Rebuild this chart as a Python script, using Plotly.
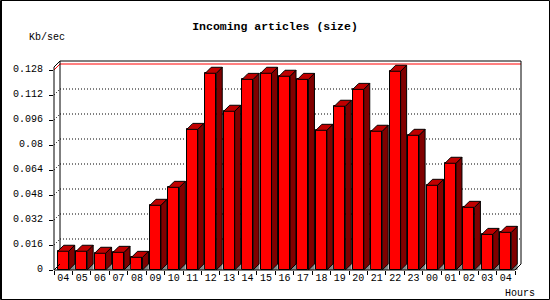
import plotly.graph_objects as go

# ---------------- data ----------------
hours = ["04", "05", "06", "07", "08", "09", "10", "11", "12", "13", "14", "15",
         "16", "17", "18", "19", "20", "21", "22", "23", "00", "01", "02", "03", "04"]
values = [0.0120, 0.0120, 0.0107, 0.0113, 0.0081, 0.0414, 0.0529, 0.0900,
          0.1259, 0.1016, 0.1220, 0.1259, 0.1240, 0.1220, 0.0894, 0.1048,
          0.1156, 0.0888, 0.1272, 0.0862, 0.0542, 0.0683, 0.0401, 0.0228, 0.0241]
y_tick_vals = [0, 0.016, 0.032, 0.048, 0.064, 0.08, 0.096, 0.112, 0.128]
y_tick_text = ["0", "0.016", "0.032", "0.048", "0.064", "0.08", "0.096", "0.112", "0.128"]
max_line = 0.128

# ---------------- geometry ----------------
W, H = 550, 300
L, R, T, B = 54, 29, 61, 30
plot_w = W - L - R
plot_h = H - T - B
depth_px = 6
n = len(values)
slot_px = (plot_w - depth_px) / n
px_per_y = 200 / 0.128
x_min = -0.5
x_max = n - 0.5 + depth_px / slot_px
y_max = plot_h / px_per_y
dx = depth_px / slot_px
dy = depth_px / px_per_y
bw = 11 / slot_px

FRONT = "#ff0000"
TOP = "#c00000"
SIDE = "#800000"
GRAY = "#888888"


def xp(v):
    return (v - x_min) / (x_max - x_min)


def yp(v):
    return v / y_max


fig = go.Figure()

# front faces
fig.add_trace(go.Bar(
    x=list(range(n)), y=values, width=bw,
    marker=dict(color=FRONT, line=dict(color="black", width=1)),
    hoverinfo="skip", showlegend=False,
))

# top, side, shadow faces
top_x, top_y, side_x, side_y, sh_x, sh_y = [], [], [], [], [], []
for i, v in enumerate(values):
    x0, x1 = i - bw / 2, i + bw / 2
    top_x += [x0, x0 + dx, x1 + dx, x1, x0, None]
    top_y += [v, v + dy, v + dy, v, v, None]
    side_x += [x1, x1, x1 + dx, x1 + dx, x1, None]
    side_y += [0, v, v + dy, dy, 0, None]
    sh_x += [x1, x1 + dx, x1 + dx, x1, None]
    sh_y += [0, dy, 0, 0, None]

fig.add_trace(go.Scatter(x=sh_x, y=sh_y, mode="lines", fill="toself",
                         fillcolor=GRAY, line=dict(color=GRAY, width=0.5),
                         hoverinfo="skip", showlegend=False))
fig.add_trace(go.Scatter(x=side_x, y=side_y, mode="lines", fill="toself",
                         fillcolor=SIDE, line=dict(color="black", width=1),
                         hoverinfo="skip", showlegend=False))
fig.add_trace(go.Scatter(x=top_x, y=top_y, mode="lines", fill="toself",
                         fillcolor=TOP, line=dict(color="black", width=1),
                         hoverinfo="skip", showlegend=False))

shapes = []


def seg(x0, y0, x1, y1, color="black", width=1, dash="solid", layer="above"):
    shapes.append(dict(type="line", xref="paper", yref="paper",
                       x0=xp(x0), y0=yp(y0), x1=xp(x1), y1=yp(y1),
                       line=dict(color=color, width=width, dash=dash), layer=layer))


bx = x_min + dx                # back plane left
ex = n - 0.5                   # front axis right end
# back plane grid (dotted)
for t in y_tick_vals[1:-1]:
    seg(bx, t + dy, x_max, t + dy, dash="1px,2px", layer="below")
for t in y_tick_vals[1:-1]:
    seg(x_min, t, bx, t + dy, dash="1px,2px", layer="below")
# max line (red)
seg(bx, max_line + dy, x_max, max_line + dy, color="red", layer="below")
seg(x_min, max_line, bx, max_line + dy, color="red", layer="below")
# back frame
seg(bx, dy, bx, y_max, layer="below")
seg(bx, y_max, x_max, y_max, layer="below")
seg(x_max, y_max, x_max, dy, layer="below")
# front axes
seg(x_min, 0, x_min, y_max - dy)
seg(x_min, y_max - dy, bx, y_max)
seg(x_min, 0, ex, 0)
seg(ex, 0, x_max, dy)
seg(x_min, 0, bx, dy)

# outer border
shapes.append(dict(type="rect", xref="paper", yref="paper",
                   x0=(0.5 - L) / plot_w, x1=(W - 0.5 - L) / plot_w,
                   y0=(T + plot_h - (H - 0.5)) / plot_h, y1=(T + plot_h - 0.5) / plot_h,
                   line=dict(color="black", width=1), layer="above"))
shapes.append(dict(type="line", xref="paper", yref="paper",
                   x0=(1.5 - L) / plot_w, x1=(1.5 - L) / plot_w,
                   y0=(T + plot_h - H) / plot_h, y1=(T + plot_h) / plot_h,
                   line=dict(color="black", width=1), layer="above"))

mono = "Liberation Mono"
fig.update_layout(
    width=W, height=H,
    margin=dict(l=L, r=R, t=T, b=B, pad=0),
    paper_bgcolor="white", plot_bgcolor="white",
    showlegend=False,
    bargap=0,
    shapes=shapes,
    title=dict(text="<b>Incoming articles (size)</b>", x=0.5, xanchor="center",
               xref="container",
               y=1 - 26 / H, yanchor="middle",
               font=dict(family=mono, size=11.5, color="black")),
    xaxis=dict(range=[x_min, x_max], tickmode="array",
               tickvals=list(range(n)), ticktext=hours,
               ticks="",
               minor=dict(tickmode="array",
                          tickvals=[i - 0.5 for i in range(n + 1)],
                          ticks="outside", ticklen=4, tickcolor="black",
                          showgrid=False),
               showgrid=False, zeroline=False, showline=False,
               tickfont=dict(family=mono, size=10, color="black"),
               fixedrange=True),
    yaxis=dict(range=[0, y_max], tickmode="array",
               tickvals=y_tick_vals, ticktext=y_tick_text,
               ticks="outside", ticklen=4, tickcolor="black",
               ticklabelstandoff=4, ticklabelshift=-2,
               showgrid=False, zeroline=False, showline=False,
               tickfont=dict(family=mono, size=10, color="black"),
               fixedrange=True),
    annotations=[
        dict(text="Kb/sec", xref="paper", yref="paper",
             x=(47 - L) / plot_w, y=(T + plot_h - 37) / plot_h,
             xanchor="center", yanchor="middle", showarrow=False,
             font=dict(family=mono, size=10, color="black")),
        dict(text="Hours", xref="paper", yref="paper",
             x=(520 - L) / plot_w, y=(T + plot_h - 293) / plot_h,
             xanchor="center", yanchor="middle", showarrow=False,
             font=dict(family=mono, size=10, color="black")),
    ],
)

fig.write_html("out.html")
